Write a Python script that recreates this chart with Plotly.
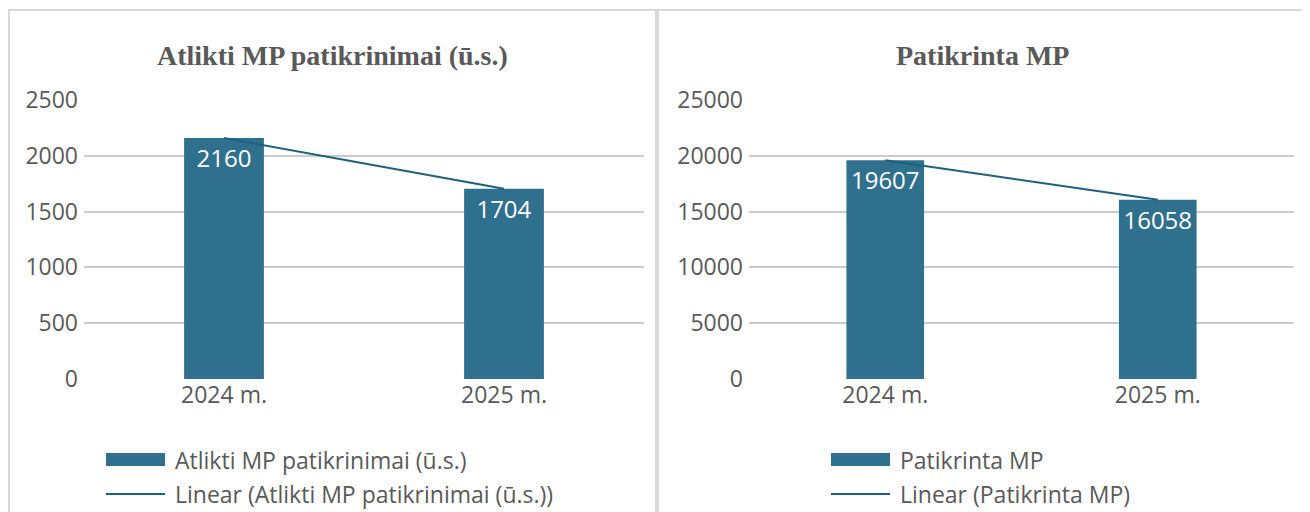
import numpy as np
import plotly.graph_objects as go

# ---- data ----
categories = ["2024 m.", "2025 m."]
left_title = "Atlikti MP patikrinimai (ū.s.)"
left_name = "Atlikti MP patikrinimai (ū.s.)"
left_values = [2160, 1704]
left_ticks = [0, 500, 1000, 1500, 2000, 2500]

right_title = "Patikrinta MP"
right_name = "Patikrinta MP"
right_values = [19607, 16058]
right_ticks = [0, 5000, 10000, 15000, 20000, 25000]

OFF = 8  # page body margin
W, H = 1310 - OFF, 512 - OFF
BAR_COLOR = "#30708f"
LINE_COLOR = "#1f5f7f"
TEXT_COLOR = "#595959"
GRID_COLOR = "#cbcbcb"
BORDER_COLOR = "#d9d9d9"
FONT = "Open Sans"
FS = 23


def px(x):
    return (x - OFF) / W


def py(y):
    return 1 - (y - OFF) / H


def trend(vals):
    xs = np.arange(len(vals))
    k, b = np.polyfit(xs, vals, 1)
    return list(k * xs + b)


fig = go.Figure()

panels = [
    dict(title=left_title, name=left_name, values=left_values, ticks=left_ticks,
         xa="x", ya="y", dom=(84, 644), pan=(9, 656), sw=106, tx=175),
    dict(title=right_title, name=right_name, values=right_values, ticks=right_ticks,
         xa="x2", ya="y2", dom=(749, 1294), pan=(658, 1306), sw=831, tx=900),
]

shapes = []
annotations = []
for i, p in enumerate(panels):
    fig.add_trace(go.Bar(
        x=categories, y=p["values"], name=p["name"],
        marker=dict(color=BAR_COLOR, line=dict(width=0)),
        width=0.285,
        text=[str(v) for v in p["values"]],
        textposition="inside", insidetextanchor="end",
        textfont=dict(color="white", size=FS + 1, family=FONT),
        xaxis=p["xa"], yaxis=p["ya"], showlegend=False,
        hoverinfo="x+y",
    ))
    fig.add_trace(go.Scatter(
        x=categories, y=trend(p["values"]), name="Linear (" + p["name"] + ")",
        mode="lines", line=dict(color=LINE_COLOR, width=2),
        xaxis=p["xa"], yaxis=p["ya"], showlegend=False,
    ))
    sfx = "" if i == 0 else "2"
    fig.update_layout(**{
        "xaxis" + sfx: dict(
            domain=[px(p["dom"][0]), px(p["dom"][1])], anchor="y" + sfx,
            type="category", showgrid=False, zeroline=False, showline=False,
            ticks="", tickfont=dict(size=FS, color=TEXT_COLOR, family=FONT),
            fixedrange=True, automargin=False,
        ),
        "yaxis" + sfx: dict(
            domain=[py(379), py(100)], anchor="x" + sfx,
            range=[0, p["ticks"][-1]], tickvals=p["ticks"], tickformat="d",
            showgrid=True, gridcolor=GRID_COLOR, gridwidth=1.5,
            zeroline=False, showline=False, ticks="",
            tickfont=dict(size=FS, color=TEXT_COLOR, family=FONT),
            ticklabelstandoff=5, fixedrange=True, automargin=False,
        ),
    })
    # panel border
    shapes.append(dict(type="rect", xref="paper", yref="paper",
                       x0=px(p["pan"][0]), x1=px(p["pan"][1]),
                       y0=py(530), y1=py(10),
                       line=dict(color=BORDER_COLOR, width=2), layer="below"))
    # title
    cx = (p["pan"][0] + p["pan"][1]) / 2
    annotations.append(dict(text="<b>" + p["title"] + "</b>", xref="paper", yref="paper",
                            x=px(cx), y=py(55), xanchor="center", yanchor="middle",
                            showarrow=False,
                            font=dict(family="Liberation Serif", size=28, color=TEXT_COLOR)))
    # legend
    shapes.append(dict(type="rect", xref="paper", yref="paper",
                       x0=px(p["sw"]), x1=px(p["sw"] + 59), y0=py(466), y1=py(453),
                       fillcolor=BAR_COLOR, line=dict(width=0)))
    shapes.append(dict(type="line", xref="paper", yref="paper",
                       x0=px(p["sw"]), x1=px(p["sw"] + 59), y0=py(494), y1=py(494),
                       line=dict(color=LINE_COLOR, width=2)))
    annotations.append(dict(text=p["name"], xref="paper", yref="paper",
                            x=px(p["tx"] - 2), y=py(460), xanchor="left", yanchor="middle",
                            showarrow=False,
                            font=dict(family=FONT, size=FS, color=TEXT_COLOR)))
    annotations.append(dict(text="Linear (" + p["name"] + ")", xref="paper", yref="paper",
                            x=px(p["tx"] - 2), y=py(494), xanchor="left", yanchor="middle",
                            showarrow=False,
                            font=dict(family=FONT, size=FS, color=TEXT_COLOR)))

fig.update_layout(
    width=W, height=H, margin=dict(l=0, r=0, t=0, b=0, pad=0, autoexpand=False),
    paper_bgcolor="white", plot_bgcolor="white",
    shapes=shapes, annotations=annotations, showlegend=False,
    font=dict(family=FONT, color=TEXT_COLOR),
)

fig.write_html("out.html")
